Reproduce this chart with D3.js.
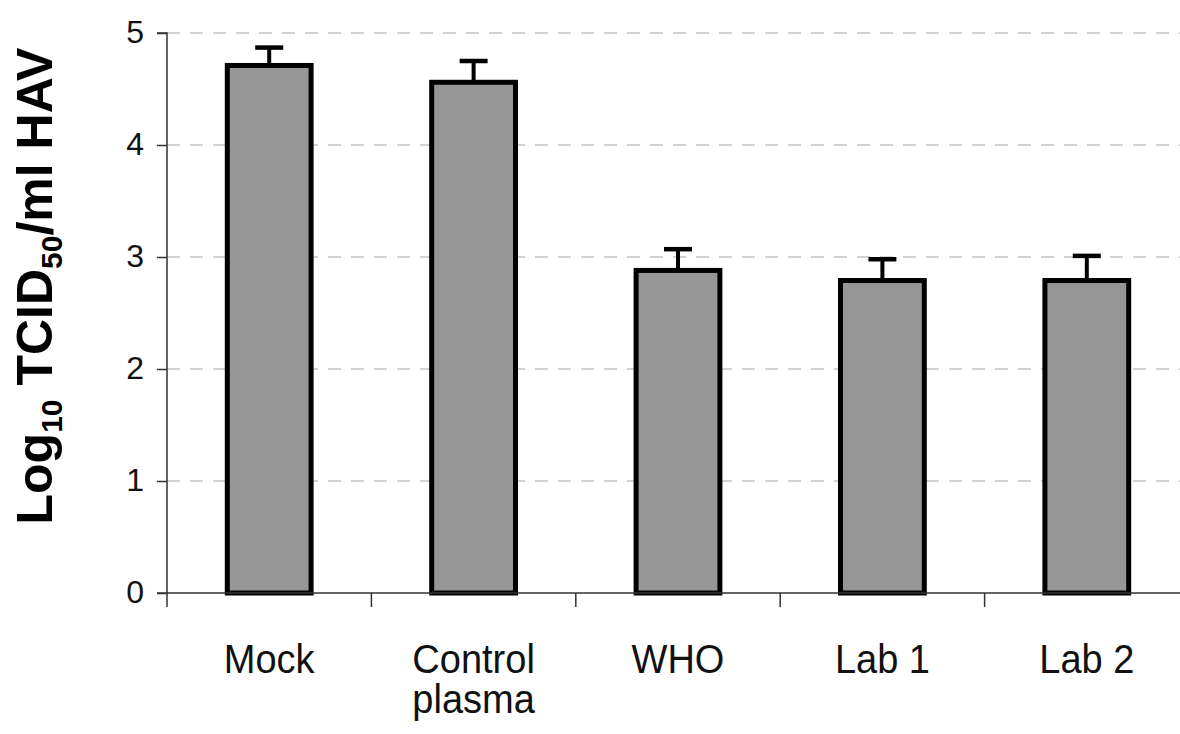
<!DOCTYPE html>
<html>
<head>
<meta charset="utf-8">
<script src="https://cdn.jsdelivr.net/npm/d3@7"></script>
<style>
  html, body { margin: 0; padding: 0; background: #fff; }
  svg { display: block; }
  text { font-family: "Liberation Sans", Arial, sans-serif; }
</style>
</head>
<body>
<svg id="chart" width="1180" height="734"></svg>
<script>
// ---- data ----
const categories = ["Mock", "Control plasma", "WHO", "Lab 1", "Lab 2"];
const labelLines = [["Mock"], ["Control", "plasma"], ["WHO"], ["Lab 1"], ["Lab 2"]];
const means = [4.71, 4.56, 2.88, 2.79, 2.79];
const errors = [0.16, 0.19, 0.19, 0.19, 0.22];
const yTicks = [0, 1, 2, 3, 4, 5];

const svg = d3.select("#chart");
const plotLeft = 167, plotRight = 1189, plotTop = 33, plotBottom = 593;

const x = d3.scaleBand().domain(categories).range([plotLeft, plotRight])
  .paddingInner(0.59).paddingOuter(0.295);
const y = d3.scaleLinear().domain([0, 5]).range([plotBottom, plotTop]);

// gridlines
svg.append("g").selectAll("line").data(yTicks.filter(d => d > 0)).join("line")
  .attr("x1", plotLeft).attr("x2", 1180)
  .attr("y1", d => y(d)).attr("y2", d => y(d))
  .attr("stroke", "#c4c4c4").attr("stroke-width", 1.6)
  .attr("stroke-dasharray", "13,10");

// error bars
const eb = svg.append("g");
categories.forEach((c, i) => {
  const cx = x(c) + x.bandwidth() / 2;
  eb.append("line").attr("x1", cx).attr("x2", cx)
    .attr("y1", y(means[i])).attr("y2", y(means[i] + errors[i]))
    .attr("stroke", "#000").attr("stroke-width", 4);
  eb.append("line").attr("x1", cx - 14).attr("x2", cx + 14)
    .attr("y1", y(means[i] + errors[i])).attr("y2", y(means[i] + errors[i]))
    .attr("stroke", "#000").attr("stroke-width", 4.5);
});

// bars
svg.append("g").selectAll("rect").data(categories).join("rect")
  .attr("x", d => x(d))
  .attr("y", (d, i) => y(means[i]))
  .attr("width", x.bandwidth())
  .attr("height", (d, i) => y(0) - y(means[i]))
  .attr("fill", "#969696")
  .attr("stroke", "#000").attr("stroke-width", 5);

// y axis
const yAxis = svg.append("g").attr("transform", `translate(${plotLeft},0)`)
  .call(d3.axisLeft(y).tickValues(yTicks).tickSize(10).tickPadding(13).tickFormat(d3.format("d")));
yAxis.select(".domain").attr("stroke", "#333").attr("stroke-width", 1.5).attr("d", `M-10,${plotTop}H0V${plotBottom}`);
yAxis.selectAll(".tick line").attr("stroke", "#333").attr("stroke-width", 1.5);
yAxis.selectAll(".tick text").attr("font-size", 32).attr("fill", "#111")
  .attr("font-family", "Liberation Sans, Arial, sans-serif").attr("dy", "0.3em");

// x axis
const xAxisScale = d3.scaleLinear().domain([0, categories.length]).range([plotLeft, plotRight]);
const xAxis = svg.append("g").attr("transform", `translate(0,${plotBottom})`);
xAxis.append("line").attr("x1", plotLeft - 10).attr("x2", 1180).attr("y1", 0).attr("y2", 0)
  .attr("stroke", "#333").attr("stroke-width", 1.5);
xAxis.selectAll("line.tk").data(d3.range(categories.length + 1)).join("line")
  .attr("class", "tk")
  .attr("x1", d => xAxisScale(d)).attr("x2", d => xAxisScale(d))
  .attr("y1", 0).attr("y2", 14).attr("stroke", "#333").attr("stroke-width", 1.5);

// category labels
categories.forEach((c, i) => {
  const cx = x(c) + x.bandwidth() / 2;
  const t = svg.append("text").attr("text-anchor", "middle")
    .attr("font-size", 38).attr("fill", "#111")
    .attr("transform", `translate(${cx},673) scale(1,1.06)`);
  labelLines[i].forEach((ln, j) => {
    t.append("tspan").attr("x", 0).attr("y", j * 38).text(ln);
  });
});

// y title
const title = svg.append("text")
  .attr("transform", "translate(52,286) rotate(-90)")
  .attr("text-anchor", "middle")
  .attr("font-size", 50).attr("font-weight", "bold").attr("fill", "#000");
title.append("tspan").text("Log");
title.append("tspan").attr("font-size", 30).attr("dy", 10).text("10");
title.append("tspan").attr("dy", -10).text(" TCID");
title.append("tspan").attr("font-size", 30).attr("dy", 10).text("50");
title.append("tspan").attr("dy", -10).text("/ml HAV");
</script>
</body>
</html>
